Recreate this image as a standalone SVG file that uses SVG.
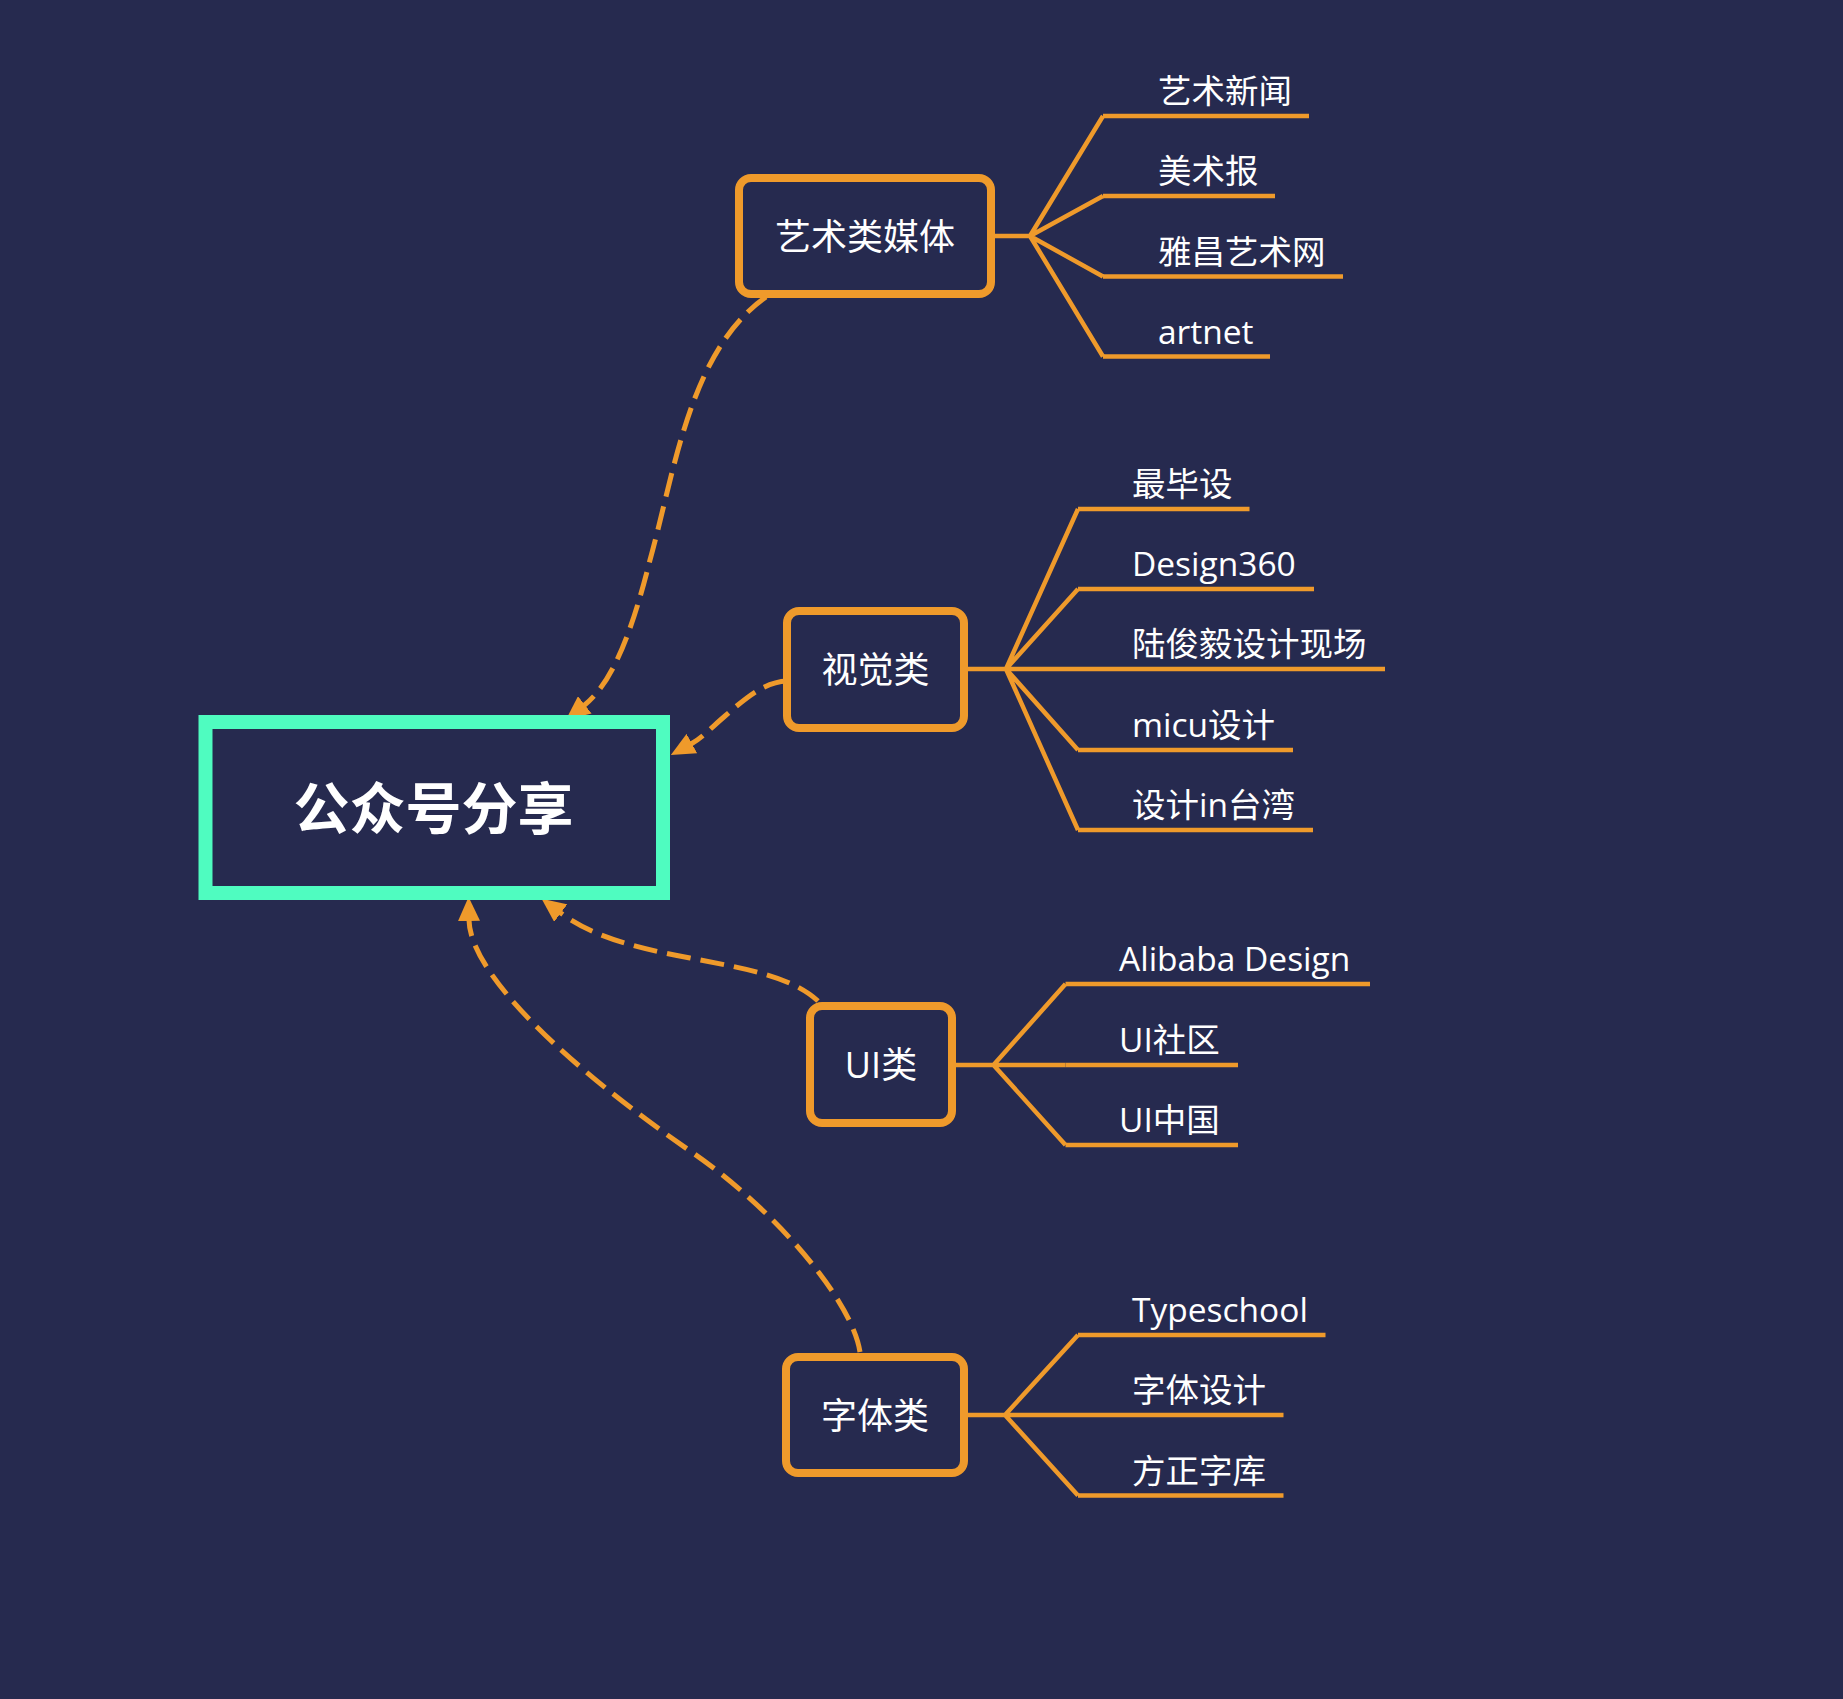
<svg xmlns="http://www.w3.org/2000/svg" width="1843" height="1699" viewBox="0 0 1843 1699">
<style>
.bg{fill:#262A4F}
.root{fill:#262A4F;stroke:#4FFCC0;stroke-width:14}
.box{fill:#262A4F;stroke:#EF9A2B;stroke-width:8}
.branch{fill:none;stroke:#EF9A2B;stroke-width:4.5;stroke-linejoin:miter}
.ul{fill:none;stroke:#EF9A2B;stroke-width:4.5}
.dash{fill:none;stroke:#EF9A2B;stroke-width:5;stroke-dasharray:24 10;marker-end:url(#arr)}
text{fill:#FFFFFF;font-family:"Open Sans","Noto Sans CJK SC",sans-serif}
.rt{font-family:"Noto Sans CJK SC",sans-serif;font-size:56px;font-weight:700;text-anchor:middle}
.nt{font-size:36px;text-anchor:middle}
.lt{font-size:33.5px}
</style>
<defs>
<marker id="arr" markerUnits="userSpaceOnUse" markerWidth="24" markerHeight="22" viewBox="0 0 24 22" refX="1" refY="11" orient="auto">
<path d="M0,0 L24,11 L0,22 z" fill="#EF9A2B"/>
</marker>
</defs>
<rect class="bg" x="0" y="0" width="1843" height="1699"/>

<g id="connectors">
<path class="dash" d="M766,297 C690,350 675,470 650,560 C630,640 610,685 584,705.5"/>
<path class="dash" d="M787,681 C765,682 748,696 725,716 C712,727 702,738 691,744"/>
<path class="dash" d="M818,1001 C790,975 740,968 690,958 C630,947 590,935 560,912.5"/>
<path class="dash" d="M860,1352 C852,1300 775,1210 693,1153 C570,1068 470,975 469,920"/>
<path class="branch" d="M995,236 H1030 M1030,236 L1103,116 M1030,236 L1103,196 M1030,236 L1103,276.5 M1030,236 L1103,356.5"/>
<path class="branch" d="M968,669 H1006 M1006,669 L1078,509 M1006,669 L1078,589 M1006,669 L1078,669 M1006,669 L1078,750 M1006,669 L1078,830"/>
<path class="branch" d="M956,1065 H993.5 M993.5,1065 L1065.5,984 M993.5,1065 L1065.5,1065 M993.5,1065 L1065.5,1145"/>
<path class="branch" d="M968,1415 H1005 M1005,1415 L1078,1335 M1005,1415 L1078,1415 M1005,1415 L1078,1495.5"/>
</g>

<g id="node-root">
<rect class="root" x="205.5" y="722" width="457.5" height="171"/>
<text class="rt" x="433.5" y="829">公众号分享</text>
</g>

<g id="node-art">
<rect class="box" x="739" y="178" width="252" height="116" rx="12"/>
<text class="nt" x="865" y="250">艺术类媒体</text>
</g>
<g id="leaf-art-1"><path class="ul" d="M1103,116 H1309"/><text class="lt" x="1158" y="103">艺术新闻</text></g>
<g id="leaf-art-2"><path class="ul" d="M1103,196 H1275"/><text class="lt" x="1158" y="183">美术报</text></g>
<g id="leaf-art-3"><path class="ul" d="M1103,276.5 H1343"/><text class="lt" x="1158" y="263.5">雅昌艺术网</text></g>
<g id="leaf-art-4"><path class="ul" d="M1103,356.5 H1270"/><text class="lt" x="1158" y="343.5">artnet</text></g>

<g id="node-visual">
<rect class="box" x="787" y="611" width="177" height="117" rx="12"/>
<text class="nt" x="875.5" y="683">视觉类</text>
</g>
<g id="leaf-visual-1"><path class="ul" d="M1078,509 H1249.5"/><text class="lt" x="1132" y="496">最毕设</text></g>
<g id="leaf-visual-2"><path class="ul" d="M1078,589 H1314"/><text class="lt" x="1132" y="576">Design360</text></g>
<g id="leaf-visual-3"><path class="ul" d="M1078,669 H1385"/><text class="lt" x="1132" y="656">陆俊毅设计现场</text></g>
<g id="leaf-visual-4"><path class="ul" d="M1078,750 H1293"/><text class="lt" x="1132" y="737">micu设计</text></g>
<g id="leaf-visual-5"><path class="ul" d="M1078,830 H1313"/><text class="lt" x="1132" y="817">设计in台湾</text></g>

<g id="node-ui">
<rect class="box" x="810" y="1006" width="142" height="117" rx="12"/>
<text class="nt" x="881" y="1078">UI类</text>
</g>
<g id="leaf-ui-1"><path class="ul" d="M1065.5,984 H1370"/><text class="lt" x="1119" y="971">Alibaba Design</text></g>
<g id="leaf-ui-2"><path class="ul" d="M1065.5,1065 H1238"/><text class="lt" x="1119" y="1052">UI社区</text></g>
<g id="leaf-ui-3"><path class="ul" d="M1065.5,1145 H1238"/><text class="lt" x="1119" y="1132">UI中国</text></g>

<g id="node-font">
<rect class="box" x="786" y="1357" width="178" height="116" rx="12"/>
<text class="nt" x="875" y="1429">字体类</text>
</g>
<g id="leaf-font-1"><path class="ul" d="M1078,1335 H1325.5"/><text class="lt" x="1132" y="1322">Typeschool</text></g>
<g id="leaf-font-2"><path class="ul" d="M1078,1415 H1283.5"/><text class="lt" x="1132" y="1402">字体设计</text></g>
<g id="leaf-font-3"><path class="ul" d="M1078,1495.5 H1283.5"/><text class="lt" x="1132" y="1482.5">方正字库</text></g>
</svg>
